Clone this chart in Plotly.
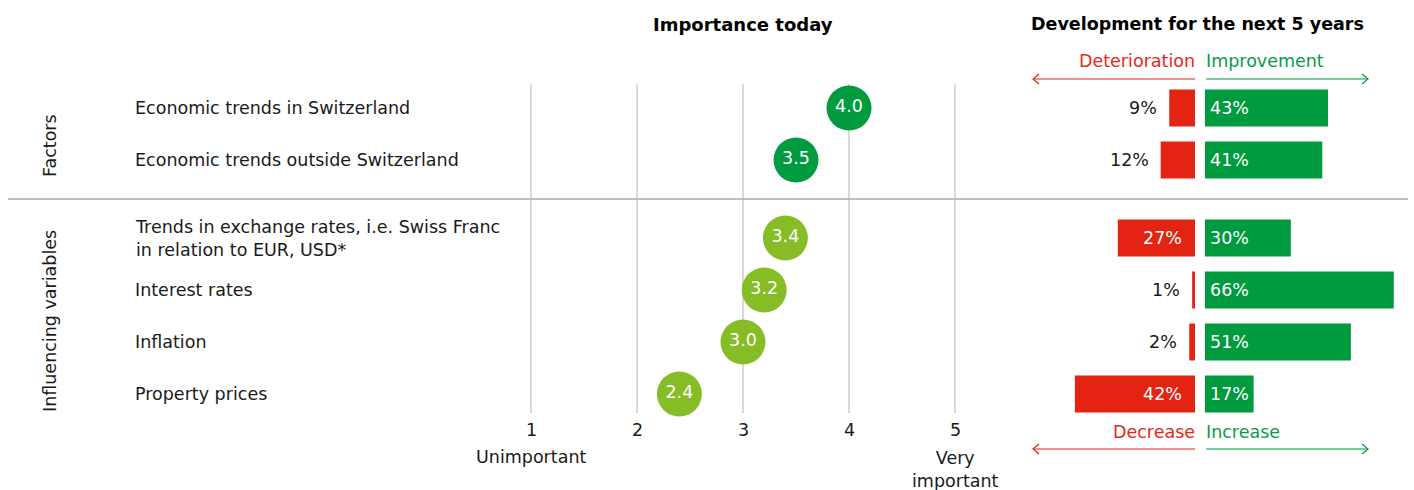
import plotly.graph_objects as go

# ---- data -------------------------------------------------------------
labels = [
    "Economic trends in Switzerland",
    "Economic trends outside Switzerland",
    "Trends in exchange rates, i.e. Swiss Franc<br>in relation to EUR, USD*",
    "Interest rates",
    "Inflation",
    "Property prices",
]
groups = [0, 0, 1, 1, 1, 1]
group_names = ["Factors", "Influencing variables"]
importance = [4.0, 3.5, 3.4, 3.2, 3.0, 2.4]
deterioration = [9, 12, 27, 1, 2, 42]
improvement = [43, 41, 30, 66, 51, 17]
scale_ticks = [1, 2, 3, 4, 5]
scale_ends = ["Unimportant", "Very<br>important"]

# ---- styling ------------------------------------------------------------
W, H = 1414, 490
FONT = "DejaVu Sans, Verdana, sans-serif"
FS = 17.5
TXT = "#1a1a1a"
DARK_GREEN = "#009a3f"
LIGHT_GREEN = "#86bc25"
RED = "#e42313"
RED_TXT = "#e5281c"
GREEN_TXT = "#0a9a48"
GRID = "#cccccc"

ROW_TOP_PX = 108      # pixel centre of first row
ROW_PITCH = 52        # pixels per row
GROUP_GAP = 0.5       # extra rows between groups
DOT_X1, DOT_X5 = 531, 955
BAR_SPLIT_L, BAR_SPLIT_R = 1195, 1205
PX_PER_PCT = 2.86


def xp(px):
    return px / W


def yp(py):
    return 1 - py / H


def note(**kw):
    base = dict(showarrow=False, xanchor="center", yanchor="middle")
    base.update(kw)
    annotations.append(base)


ypos = [i + GROUP_GAP * g for i, g in enumerate(groups)]
y_range = [(H - ROW_TOP_PX) / ROW_PITCH, -ROW_TOP_PX / ROW_PITCH]

unit_px = (DOT_X5 - DOT_X1) / (scale_ticks[-1] - scale_ticks[0])
x_range = [1 - DOT_X1 / unit_px, 1 + (BAR_SPLIT_L - DOT_X1) / unit_px]

fig = go.Figure()

# deterioration bars (pointing left)
fig.add_trace(go.Bar(
    x=deterioration, y=ypos, orientation="h", xaxis="x3", yaxis="y",
    width=37 / ROW_PITCH, marker=dict(color=RED, line=dict(width=0)),
    hoverinfo="skip",
))
# improvement bars (pointing right)
fig.add_trace(go.Bar(
    x=improvement, y=ypos, orientation="h", xaxis="x2", yaxis="y",
    width=37 / ROW_PITCH, marker=dict(color=DARK_GREEN, line=dict(width=0)),
    hoverinfo="skip",
))
# importance dots
fig.add_trace(go.Scatter(
    x=importance, y=ypos, mode="markers+text", xaxis="x", yaxis="y",
    text=[f"{v:.1f}" for v in importance], textposition="middle center",
    textfont=dict(family=FONT, size=FS, color="white"),
    marker=dict(size=45, color=[DARK_GREEN if g == 0 else LIGHT_GREEN for g in groups],
                line=dict(width=0)),
    cliponaxis=False, hoverinfo="skip",
))

shapes = []
annotations = []

# vertical grid lines of the importance scale
grid_top = ypos[0] - 24 / ROW_PITCH
grid_bot = ypos[-1] + 19 / ROW_PITCH
for t in scale_ticks:
    shapes.append(dict(type="line", xref="x", yref="y", x0=t, x1=t, y0=grid_top, y1=grid_bot,
                       line=dict(color=GRID, width=1.5), layer="below"))
    note(x=t, y=yp(430), xref="x", yref="paper", text=str(t),
         font=dict(family=FONT, size=FS, color=TXT))
note(x=scale_ticks[0], y=yp(457), xref="x", yref="paper", text=scale_ends[0],
     font=dict(family=FONT, size=FS, color=TXT))
note(x=scale_ticks[-1], y=yp(469), xref="x", yref="paper", text=scale_ends[1],
     font=dict(family=FONT, size=FS, color=TXT))

# divider between groups
split_y = (ypos[1] + ypos[2]) / 2
shapes.append(dict(type="line", xref="paper", yref="y", x0=xp(8), x1=xp(1408), y0=split_y, y1=split_y,
                   line=dict(color="#aaaaaa", width=1.5)))

# row labels
for lab, y in zip(labels, ypos):
    note(x=xp(135), y=y, xref="paper", yref="y", text=lab, xanchor="left", align="left", xshift=-2,
         font=dict(family=FONT, size=FS, color=TXT))

# group labels
for gi, name in enumerate(group_names):
    ys = [y for y, g in zip(ypos, groups) if g == gi]
    note(x=xp(50), y=sum(ys) / len(ys), xref="paper", yref="y", text=name,
         textangle=-90, yshift=-12 if gi == 0 else -5,
         font=dict(family=FONT, size=FS, color=TXT))

# bar value labels
for v, y in zip(improvement, ypos):
    note(x=0, y=y, xref="x2", yref="y", text=f"{v}%", xanchor="left", xshift=3,
         font=dict(family=FONT, size=FS, color="white"))
for v, y in zip(deterioration, ypos):
    if v >= 20:
        note(x=0, y=y, xref="x3", yref="y", text=f"{v}%", xanchor="right", xshift=-11,
             font=dict(family=FONT, size=FS, color="white"))
    else:
        note(x=v, y=y, xref="x3", yref="y", text=f"{v}%", xanchor="right", xshift=-10,
             font=dict(family=FONT, size=FS, color=TXT))

# panel titles
note(x=(scale_ticks[0] + scale_ticks[-1]) / 2, y=yp(24), xref="x", yref="paper",
     text="<b>Importance today</b>", font=dict(family=FONT, size=18, color="black"))
note(x=xp(1197), y=yp(24), xref="paper", yref="paper",
     text="<b>Development for the next 5 years</b>", font=dict(family=FONT, size=17.5, color="black"))


# direction captions with arrows
def direction(left_text, right_text, text_py, arrow_py):
    note(x=xp(BAR_SPLIT_L + 2), y=yp(text_py), xref="paper", yref="paper",
         text=left_text, xanchor="right", font=dict(family=FONT, size=FS, color=RED_TXT))
    note(x=xp(BAR_SPLIT_R - 1), y=yp(text_py), xref="paper", yref="paper",
         text=right_text, xanchor="left", font=dict(family=FONT, size=FS, color=GREEN_TXT))
    ya = yp(arrow_py)
    lx0, lx1 = BAR_SPLIT_L, 1033
    rx0, rx1 = BAR_SPLIT_R + 1, 1368
    shapes.append(dict(type="line", xref="paper", yref="paper", x0=xp(lx0), x1=xp(lx1), y0=ya, y1=ya,
                       line=dict(color=RED, width=1.2)))
    shapes.append(dict(type="path", xref="paper", yref="paper",
                       path=f"M {xp(lx1 + 6)},{yp(arrow_py - 5)} L {xp(lx1)},{ya} L {xp(lx1 + 6)},{yp(arrow_py + 5)}",
                       line=dict(color=RED, width=1.2)))
    shapes.append(dict(type="line", xref="paper", yref="paper", x0=xp(rx0), x1=xp(rx1), y0=ya, y1=ya,
                       line=dict(color=DARK_GREEN, width=1.2)))
    shapes.append(dict(type="path", xref="paper", yref="paper",
                       path=f"M {xp(rx1 - 6)},{yp(arrow_py - 5)} L {xp(rx1)},{ya} L {xp(rx1 - 6)},{yp(arrow_py + 5)}",
                       line=dict(color=DARK_GREEN, width=1.2)))


direction("Deterioration", "Improvement", 61, 79)
direction("Decrease", "Increase", 432, 449)

hidden = dict(showgrid=False, zeroline=False, showticklabels=False, showline=False, ticks="")

fig.update_layout(
    width=W, height=H, margin=dict(l=0, r=0, t=0, b=0),
    paper_bgcolor="white", plot_bgcolor="rgba(0,0,0,0)",
    showlegend=False, barmode="overlay",
    xaxis=dict(domain=[0, xp(BAR_SPLIT_L)], range=x_range, **hidden),
    xaxis3=dict(domain=[0, xp(BAR_SPLIT_L)], range=[BAR_SPLIT_L / PX_PER_PCT, 0],
                overlaying="x", anchor="y", **hidden),
    xaxis2=dict(domain=[xp(BAR_SPLIT_R), 1], range=[0, (W - BAR_SPLIT_R) / PX_PER_PCT],
                anchor="y", **hidden),
    yaxis=dict(domain=[0, 1], range=y_range, **hidden),
    shapes=shapes, annotations=annotations,
)

fig.write_html("out.html")
